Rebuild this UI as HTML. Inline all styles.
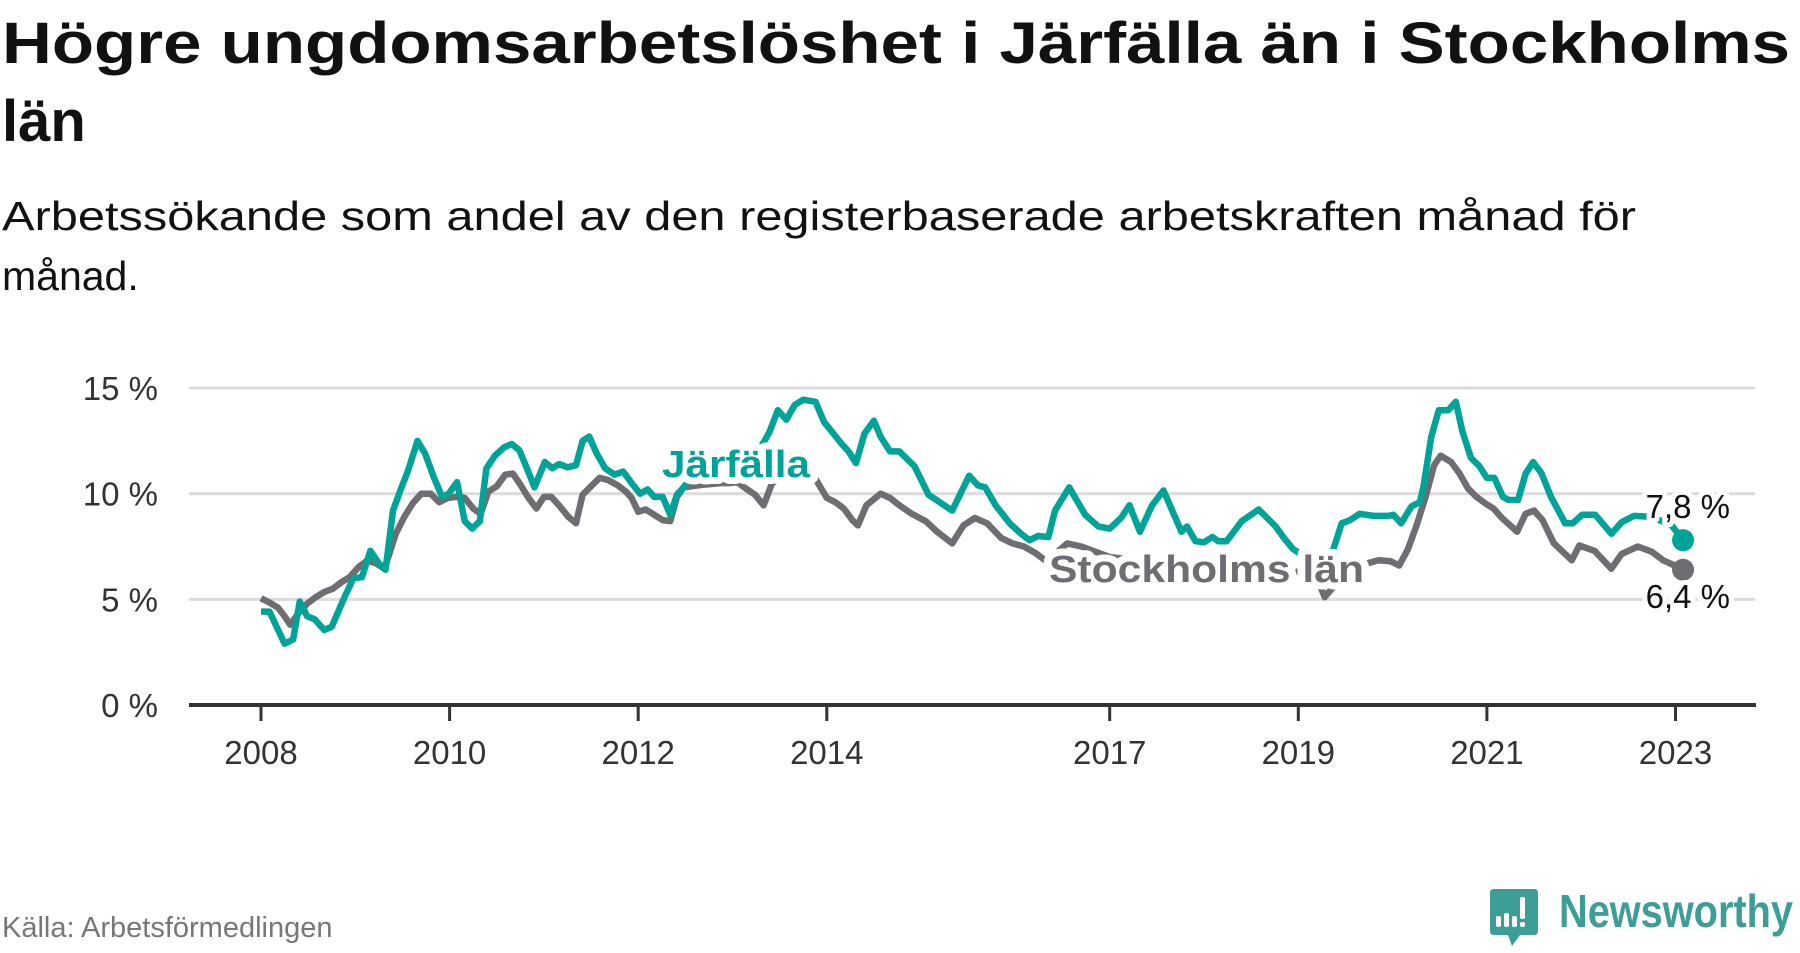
<!DOCTYPE html>
<html><head><meta charset="utf-8">
<style>
html,body{margin:0;padding:0;background:#fff;}
body{width:1800px;height:948px;overflow:hidden;font-family:"Liberation Sans",sans-serif;}
svg text{font-family:"Liberation Sans",sans-serif;}
</style></head>
<body>
<svg id="chart" width="1800" height="948" viewBox="0 0 1800 948" xmlns="http://www.w3.org/2000/svg">
  <text x="2" y="63" font-size="58" font-weight="bold" fill="#111" textLength="1788" lengthAdjust="spacingAndGlyphs">Högre ungdomsarbetslöshet i Järfälla än i Stockholms</text>
  <text x="2" y="141" font-size="58" font-weight="bold" fill="#111">län</text>
  <text x="2" y="230" font-size="41" fill="#111" textLength="1634" lengthAdjust="spacingAndGlyphs">Arbetssökande som andel av den registerbaserade arbetskraften månad för</text>
  <text x="2" y="290" font-size="41" fill="#111">månad.</text>
  <g id="grid"></g>
  <g id="lines"></g>
  <g id="labels"></g>
  <text x="2" y="937" font-size="29" fill="#777">Källa: Arbetsförmedlingen</text>
  <g>
    <path d="M1494 889 H1534 Q1538 889 1538 893 V931 Q1538 935 1534 935 H1520 L1512 946 L1508 935 H1494 Q1490 935 1490 931 V893 Q1490 889 1494 889 Z" fill="#3d9e97"/>
    <rect x="1496" y="916" width="5" height="11" rx="2" fill="#fff"/>
    <rect x="1504" y="913" width="5" height="14" rx="2" fill="#fff"/>
    <rect x="1512" y="916" width="5" height="11" rx="2" fill="#fff"/>
    <rect x="1520" y="897" width="5" height="22" rx="2" fill="#fff"/>
    <rect x="1520" y="922" width="5" height="5" rx="2" fill="#fff"/>
    <text x="1559" y="927" font-size="46" font-weight="bold" fill="#3d9e97" textLength="234" lengthAdjust="spacingAndGlyphs">Newsworthy</text>
  </g>
</svg>
<script>
const yTicks = [0, 5, 10, 15];
const yTickLabels = ["0 %", "5 %", "10 %", "15 %"];
const xTicks = [2008, 2010, 2012, 2014, 2017, 2019, 2021, 2023];
const jarfallaDates = [0,0.09,0.25,0.34,0.41,0.49,0.57,0.67,0.75,0.88,0.98,1.07,1.16,1.25,1.32,1.40,1.49,1.56,1.66,1.74,1.83,1.92,1.99,2.08,2.16,2.24,2.32,2.39,2.48,2.58,2.66,2.74,2.82,2.90,3.01,3.09,3.16,3.25,3.34,3.41,3.48,3.56,3.65,3.75,3.84,3.93,4.02,4.10,4.17,4.26,4.34,4.41,4.48,4.65,4.85,5.05,5.25,5.39,5.48,5.57,5.66,5.75,5.88,5.97,6.06,6.15,6.23,6.31,6.40,6.50,6.57,6.67,6.77,6.93,7.08,7.33,7.51,7.60,7.68,7.79,7.94,8.06,8.15,8.24,8.35,8.42,8.57,8.74,8.88,9.00,9.12,9.21,9.32,9.45,9.57,9.76,9.82,9.91,10.00,10.09,10.15,10.24,10.40,10.58,10.76,10.84,10.94,11.10,11.25,11.37,11.46,11.55,11.65,11.80,11.95,12.01,12.09,12.20,12.29,12.33,12.41,12.49,12.59,12.67,12.74,12.83,12.92,13.00,13.08,13.17,13.23,13.33,13.41,13.49,13.58,13.68,13.83,13.91,14.01,14.15,14.32,14.43,14.56,14.75,14.96,15.08];
const jarfallaValues = [4.42,4.42,2.9,3.1,4.9,4.2,4.05,3.55,3.7,5.05,6.0,6.05,7.3,6.7,6.4,9.2,10.3,11.1,12.5,11.9,10.8,9.85,10.0,10.55,8.7,8.35,8.7,11.2,11.8,12.2,12.35,12.05,11.2,10.3,11.5,11.2,11.4,11.25,11.35,12.5,12.7,11.9,11.2,10.9,11.05,10.5,10.0,10.2,9.85,9.85,9.0,9.95,10.3,11.3,11.5,11.5,11.8,12.9,13.95,13.5,14.2,14.45,14.35,13.4,12.9,12.4,12.0,11.45,12.85,13.45,12.7,12.0,12.0,11.3,9.95,9.2,10.85,10.4,10.3,9.45,8.6,8.1,7.8,8.0,7.95,9.2,10.3,9.0,8.45,8.35,8.85,9.45,8.2,9.45,10.15,8.2,8.45,7.75,7.7,7.95,7.75,7.75,8.7,9.25,8.45,7.95,7.4,6.9,6.9,7.35,8.6,8.75,9.05,8.95,8.95,9.0,8.6,9.4,9.6,10.4,12.7,13.95,13.95,14.35,12.95,11.7,11.3,10.75,10.75,9.85,9.7,9.7,10.95,11.5,10.95,9.85,8.6,8.6,9.0,9.0,8.1,8.65,8.95,8.9,8.5,7.8];
const stockholmDates = [0,0.09,0.18,0.25,0.31,0.40,0.49,0.58,0.67,0.76,0.85,0.94,1.04,1.13,1.22,1.31,1.43,1.52,1.61,1.70,1.80,1.89,1.98,2.07,2.16,2.25,2.33,2.41,2.50,2.59,2.67,2.74,2.83,2.92,3.00,3.08,3.17,3.26,3.34,3.41,3.50,3.59,3.68,3.78,3.87,3.93,4.00,4.08,4.17,4.26,4.34,4.41,4.48,4.65,4.87,4.96,5.05,5.14,5.24,5.33,5.42,5.60,5.75,5.88,6.00,6.09,6.18,6.27,6.33,6.42,6.57,6.67,6.77,6.90,7.05,7.17,7.33,7.45,7.57,7.70,7.85,7.97,8.09,8.21,8.33,8.55,8.70,9.0,9.4,9.8,10.2,10.6,11.0,11.20,11.28,11.45,11.65,11.85,11.98,12.07,12.16,12.25,12.35,12.44,12.51,12.62,12.71,12.80,12.89,12.98,13.07,13.16,13.32,13.41,13.50,13.59,13.71,13.90,13.98,14.14,14.32,14.43,14.60,14.75,14.87,14.99,15.08];
const stockholmValues = [5.05,4.85,4.6,4.2,3.8,4.35,4.8,5.1,5.35,5.5,5.8,6.05,6.55,6.85,6.7,6.45,8.1,8.9,9.55,10.0,10.0,9.6,9.8,9.85,9.8,9.3,9.05,10.1,10.35,10.9,10.95,10.5,9.85,9.3,9.85,9.85,9.4,8.9,8.6,9.95,10.35,10.75,10.65,10.4,10.1,9.8,9.15,9.25,9.0,8.75,8.7,9.85,10.3,10.4,10.5,10.5,10.55,10.25,9.95,9.45,10.5,11.0,11.2,10.7,9.8,9.6,9.3,8.75,8.5,9.45,10.0,9.8,9.45,9.05,8.7,8.2,7.65,8.5,8.85,8.6,7.9,7.65,7.5,7.2,6.8,7.65,7.5,7.0,6.8,6.6,6.5,6.4,6.3,6.0,5.1,6.0,6.6,6.85,6.8,6.6,7.35,8.45,9.85,11.35,11.8,11.5,10.95,10.25,9.85,9.55,9.3,8.85,8.2,9.05,9.2,8.75,7.65,6.85,7.55,7.3,6.45,7.15,7.5,7.25,6.85,6.6,6.4];

const NS = "http://www.w3.org/2000/svg";
const X0 = 261, PXY = 94.3, Y0 = 705, PXV = 21.13;
function xScale(year){ return X0 + (year - 2008) * PXY; }
function xOff(t){ return X0 + t * PXY; }
function yScale(v){ return Y0 - v * PXV; }
function mk(tag, attrs, parent){ const e = document.createElementNS(NS, tag); for (const k in attrs) e.setAttribute(k, attrs[k]); parent.appendChild(e); return e; }

const grid = document.getElementById('grid');
yTicks.forEach((v, i) => {
  if (v > 0) {
    const gl = mk('line', {x1:189, x2:1755, y1:yScale(v), y2:yScale(v), stroke:'#dcdcdc', 'stroke-width':3}, grid);
    
    
  }
  const t = mk('text', {x:158, y:yScale(v)+12, 'text-anchor':'end', 'font-size':33, fill:'#333'}, grid);
  t.textContent = yTickLabels[i];
  
  
});
const ax = mk('line', {x1:189, x2:1756, y1:Y0, y2:Y0, stroke:'#333', 'stroke-width':4}, grid);


xTicks.forEach(yr => {
  const tk = mk('line', {x1:xScale(yr), x2:xScale(yr), y1:Y0, y2:Y0+16, stroke:'#333', 'stroke-width':3}, grid);
  
  
  const tl = mk('text', {x:xScale(yr), y:764, 'text-anchor':'middle', 'font-size':33, fill:'#333'}, grid);
  tl.textContent = String(yr);
  
  
});

const lines = document.getElementById('lines');
function drawSeries(dates, vals, color, name){
  const d = dates.map((t, i) => (i ? 'L' : 'M') + xOff(t).toFixed(1) + ' ' + yScale(vals[i]).toFixed(1)).join(' ');
  const p = mk('path', {d:d, fill:'none', stroke:color, 'stroke-width':6.5, 'stroke-linejoin':'round'}, lines);
  
  
  const n = dates.length - 1;
  const c = mk('circle', {cx:xOff(dates[n]), cy:yScale(vals[n]), r:11, fill:color}, lines);
  
  
}
drawSeries(stockholmDates, stockholmValues, '#6e6d72', 'stockholm');
drawSeries(jarfallaDates, jarfallaValues, '#00a398', 'jarfalla');

const labels = document.getElementById('labels');
function lbl(x, y, txt, size, weight, color, name, anchor, len, halo){
  const a = {x:x, y:y, 'font-size':size, 'font-weight':weight, fill:color, stroke:'#fff', 'stroke-width':halo, 'stroke-linejoin':'round', 'paint-order':'stroke', 'text-anchor':anchor};
  if (len) { a.textLength = len; a.lengthAdjust = 'spacingAndGlyphs'; }
  const t = mk('text', a, labels);
  t.textContent = txt;
  
  
}
lbl(662, 477, 'Järfälla', 38, 'bold', '#00a398', 'jarfalla-label', 'start', 148, 14);
lbl(1049, 582, 'Stockholms län', 38, 'bold', '#6e6d72', 'stockholm-label', 'start', 315, 14);
const nJ = jarfallaValues.length - 1, nS = stockholmValues.length - 1;
lbl(1730, 518, jarfallaValues[nJ].toFixed(1).replace('.', ',') + ' %', 33, 'normal', '#111', 'jarfalla-value-label', 'end', 0, 10);
lbl(1730, 608, stockholmValues[nS].toFixed(1).replace('.', ',') + ' %', 33, 'normal', '#111', 'stockholm-value-label', 'end', 0, 10);
</script>
</body></html>
